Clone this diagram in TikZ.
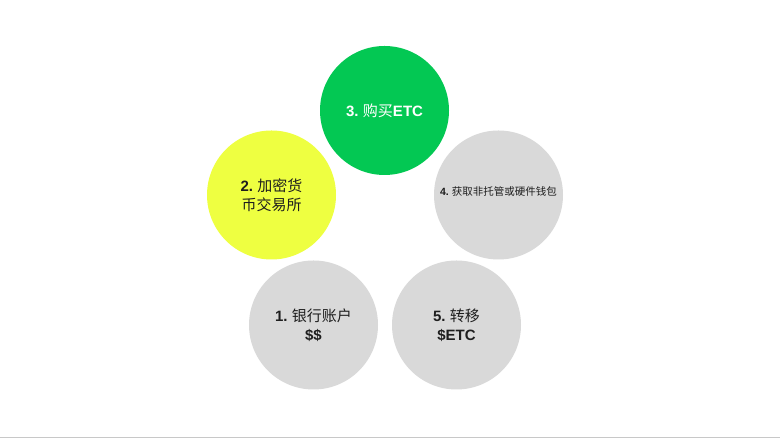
\documentclass[tikz,border=0pt]{standalone}
\usepackage{fontspec}
\setmainfont{Noto Sans CJK SC}
\newfontfamily\lat{Liberation Sans}
\definecolor{cgreen}{HTML}{03C853}
\definecolor{cyellow}{HTML}{EEFF41}
\definecolor{cgray}{HTML}{D9D9D9}
\definecolor{ctext}{HTML}{1E1E1E}
\definecolor{cline}{HTML}{C8C8C8}
\newcommand{\B}[1]{{\lat\bfseries #1}}
\tikzset{
  bubble/.style={circle, minimum size=129pt, inner sep=0pt, align=center, text=ctext,
    font=\fontsize{15pt}{19pt}\selectfont},
}
\begin{document}
\begin{tikzpicture}[x=1pt,y=1pt]
\useasboundingbox (0,0) rectangle (780,438);
\fill[white] (0,0) rectangle (780,438);
\draw[cline, line width=1.2pt] (0,0.6) -- (780,0.6);
\node[bubble, fill=cgreen, text=white] (n3) at (384.5,327.5) {\B{3.} 购买\B{ETC}};
\node[bubble, fill=cyellow] (n2) at (271.5,243) {\B{2.} 加密货\\币交易所};
\node[bubble, fill=cgray, font=\fontsize{10.5pt}{13pt}\selectfont] (n4) at (498.5,243) {\raisebox{7pt}{\B{4.} 获取非托管或硬件钱包}};
\node[bubble, fill=cgray] (n1) at (313.5,113) {\B{1.} 银行账户\\\B{\$\$}};
\node[bubble, fill=cgray] (n5) at (456.5,113) {\B{5.} 转移\\\B{\$ETC}};
\end{tikzpicture}
\end{document}
